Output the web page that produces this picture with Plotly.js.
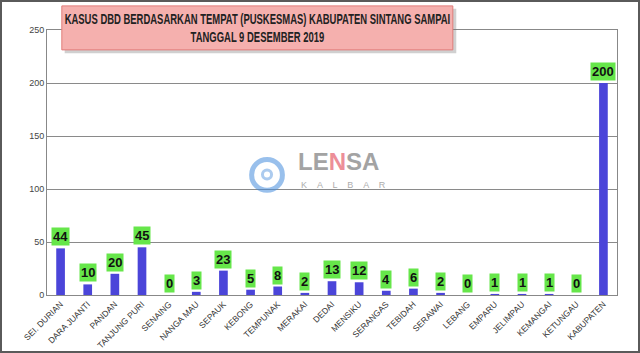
<!DOCTYPE html>
<html><head><meta charset="utf-8">
<script src="https://cdn.plot.ly/plotly-3.0.1.min.js"></script>
<style>
html,body{margin:0;padding:0;background:#fff;}
#wrap{width:640px;height:353px;box-sizing:border-box;border:2px solid #5a5a5a;overflow:hidden;}
#chart{width:636px;height:349px;}
</style>
</head><body><div id="wrap"><div id="chart"></div></div>
<script>
const categories = ["SEI. DURIAN","DARA JUANTI","PANDAN","TANJUNG PURI","SENAING","NANGA MAU","SEPAUK","KEBONG","TEMPUNAK","MERAKAI","DEDAI","MENSIKU","SERANGAS","TEBIDAH","SERAWAI","LEBANG","EMPARU","JELIMPAU","KEMANGAI","KETUNGAU","KABUPATEN"];
const cases = [44,10,20,45,0,3,23,5,8,2,13,12,4,6,2,0,1,1,1,0,200];
const yTicks = [0,50,100,150,200,250];
const titleLines = ["KASUS DBD BERDASARKAN TEMPAT (PUSKESMAS) KABUPATEN SINTANG SAMPAI","TANGGAL 9 DESEMBER 2019"];

const trace = {
  type:'bar', x:categories, y:cases,
  marker:{color:'#4b45d9'},
  hoverinfo:'x+y'
};

const ann = categories.map((c,i)=>({
  x:c, y:cases[i], xref:'x', yref:'y', text:String(cases[i]),
  showarrow:false, yanchor:'bottom', yshift:2,
  bgcolor:'#66e64a', borderpad:1,
  font:{family:'Liberation Sans, Arial, sans-serif', size:13, color:'#111', weight:'bold'}
}));

// title box text
ann.push({xref:'paper', yref:'paper', x:0.369, y:1.008, xanchor:'center', yanchor:'middle',
  text:'<b>'+titleLines.join('<br>')+'</b>', showarrow:false,
  font:{family:'Liberation Sans, Arial, sans-serif', size:14, color:'#222'}});

// watermark
ann.push({xref:'paper', yref:'paper', x:0.437, y:0.502, xanchor:'left', yanchor:'middle',
  text:'<b>LE<span style="color:#e9727f">N</span>SA</b>', showarrow:false,
  font:{family:'Liberation Sans, Arial, sans-serif', size:24, color:'#8d8d8d'}, opacity:0.8});
ann.push({xref:'paper', yref:'paper', x:0.442, y:0.415, xanchor:'left', yanchor:'middle',
  text:'K &nbsp;&nbsp;&nbsp;A &nbsp;&nbsp;&nbsp;L &nbsp;&nbsp;&nbsp;B &nbsp;&nbsp;&nbsp;A &nbsp;&nbsp;&nbsp;R', showarrow:false,
  font:{family:'Liberation Sans, Arial, sans-serif', size:9, color:'#999'}, opacity:0.8});

const layout = {
  width:636, height:349,
  margin:{l:45, r:21, t:28, b:56},
  paper_bgcolor:'#fff', plot_bgcolor:'#fff',
  showlegend:false,
  bargap:0.68,
  xaxis:{tickangle:-45, showline:true, linecolor:'#888', linewidth:1, mirror:true,
    tickfont:{family:'Liberation Sans, Arial, sans-serif', size:8.5, color:'#333'}, ticks:'', automargin:false},
  yaxis:{range:[0,250], tickvals:yTicks, showgrid:true, gridcolor:'#8a8a8a', gridwidth:1,
    showline:true, linecolor:'#888', mirror:true, zeroline:false, ticks:'',
    tickfont:{family:'Liberation Sans, Arial, sans-serif', size:9, color:'#444'}, automargin:false},
  annotations:ann,
  shapes:[
    {type:'rect', xref:'paper', yref:'paper', x0:0.031, x1:0.718, y0:0.912, y1:1.080,
      fillcolor:'rgba(120,120,120,0.35)', line:{width:0}, layer:'above'},
    {type:'rect', xref:'paper', yref:'paper', x0:0.026, x1:0.712, y0:0.925, y1:1.091,
      fillcolor:'#f5b0ae', line:{color:'#e07c7a', width:1}, layer:'above'},
    {type:'circle', xref:'paper', yref:'paper', x0:0.359, x1:0.413, y0:0.395, y1:0.511,
      line:{color:'rgba(70,140,220,0.55)', width:5}, fillcolor:'rgba(0,0,0,0)'},
    {type:'circle', xref:'paper', yref:'paper', x0:0.378, x1:0.394, y0:0.438, y1:0.472,
      line:{color:'rgba(70,140,220,0.45)', width:3}, fillcolor:'rgba(0,0,0,0)'}
  ]
};
Plotly.newPlot('chart',[trace],layout,{staticPlot:true, displayModeBar:false}).then(gd=>{
  // condense the title text horizontally to mimic the narrow original typeface
  const annEls = gd.querySelectorAll('g.annotation');
  const titleEl = annEls[categories.length].querySelector('text.annotation-text');
  const bb = titleEl.getBBox();
  const target = 386;
  const s = Math.min(1, target / bb.width);
  const cx = bb.x + bb.width/2;
  titleEl.setAttribute('transform', `translate(${cx},0) scale(${s},1) translate(${-cx},0)`);
});
</script></body></html>
